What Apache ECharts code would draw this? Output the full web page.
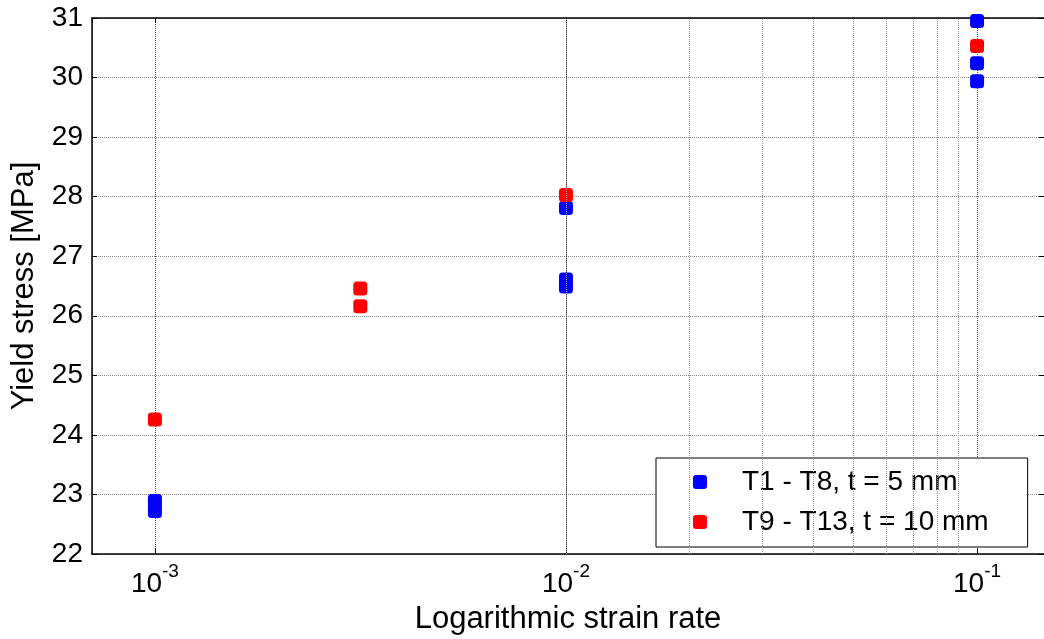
<!DOCTYPE html>
<html>
<head>
<meta charset="utf-8">
<script src="https://cdn.jsdelivr.net/npm/echarts@6/dist/echarts.min.js"></script>
<style>
html,body{margin:0;padding:0;background:#fff;}
#chart{width:1044px;height:639px;}
</style>
</head>
<body>
<div id="chart"></div>
<script>
// Data
const seriesNames = ['T1 - T8, t = 5 mm', 'T9 - T13, t = 10 mm'];
const blueRates  = [0.001, 0.001, 0.01, 0.01, 0.01, 0.1, 0.1, 0.1];
const blueStress = [22.89, 22.72, 27.81, 26.61, 26.49, 30.95, 30.24, 29.94];
const redRates   = [0.001, 0.00316, 0.00316, 0.01, 0.1];
const redStress  = [24.26, 26.46, 26.16, 28.03, 30.53];
const xRange = [7.03e-4, 0.1455];
const yRange = [22, 31];
const yTickStep = 1;
const minorGridX = [8e-4, 9e-4, 2e-3, 3e-3, 4e-3, 5e-3, 6e-3, 7e-3, 8e-3, 9e-3,
                    2e-2, 3e-2, 4e-2, 5e-2, 6e-2, 7e-2, 8e-2, 9e-2];

const zip = (a, b) => a.map((v, i) => [v, b[i]]);
const FONT = 'Liberation Sans, Arial, sans-serif';
const sq = 'path://M3,0 H11 Q14,0 14,3 V11 Q14,14 11,14 H3 Q0,14 0,11 V3 Q0,0 3,0 Z';
const isPow = v => Math.abs(Math.log10(v) - Math.round(Math.log10(v))) < 1e-6;

const chart = echarts.init(document.getElementById('chart'));
chart.setOption({
  animation: false,
  backgroundColor: '#fff',
  textStyle: { fontFamily: FONT },
  grid: { left: 92, right: 0, top: 18, bottom: 85, containLabel: false, outerBoundsMode: 'none' },
  xAxis: [{
    type: 'log', logBase: 10, min: xRange[0], max: xRange[1],
    name: 'Logarithmic strain rate', nameLocation: 'middle', nameGap: 50,
    nameTextStyle: { fontSize: 31, color: '#000', fontFamily: FONT },
    axisLine: { show: true, onZero: false, lineStyle: { color: '#000', width: 1.5 } },
    axisTick: { show: true, inside: true, length: 5, lineStyle: { color: '#000' } },
    axisLabel: {
      margin: 8, color: '#000', showMinLabel: false, showMaxLabel: false, hideOverlap: false,
      formatter: v => isPow(v) ? '{b|10}{sup|' + Math.round(Math.log10(v)) + '}' : '',
      rich: {
        b: { fontSize: 28, fontFamily: FONT, color: '#000', lineHeight: 36, verticalAlign: 'bottom' },
        sup: { fontSize: 19, fontFamily: FONT, color: '#000', lineHeight: 36, verticalAlign: 'top' }
      }
    },
    splitLine: { show: true, lineStyle: { color: '#444', width: 1, type: [1, 1] } }
  }, {
    type: 'log', logBase: 10, min: xRange[0], max: xRange[1], position: 'top',
    axisLine: { show: true, onZero: false, lineStyle: { color: '#000', width: 1.5 } },
    axisTick: { show: true, inside: true, length: 5, lineStyle: { color: '#000' } },
    axisLabel: { show: false }, splitLine: { show: false }
  }],
  yAxis: [{
    type: 'value', min: yRange[0], max: yRange[1], interval: yTickStep,
    name: 'Yield stress [MPa]', nameLocation: 'middle', nameGap: 52,
    nameTextStyle: { fontSize: 31, color: '#000', fontFamily: FONT },
    axisLine: { show: true, onZero: false, lineStyle: { color: '#000', width: 1.5 } },
    axisTick: { show: true, inside: true, length: 5, lineStyle: { color: '#000' } },
    axisLabel: { fontSize: 28, color: '#000', margin: 9, fontFamily: FONT },
    splitLine: { show: true, lineStyle: { color: '#888', width: 1, type: [1, 1] } }
  }, {
    type: 'value', min: yRange[0], max: yRange[1], interval: yTickStep, position: 'right',
    axisLine: { show: false },
    axisTick: { show: true, inside: true, length: 5, lineStyle: { color: '#000' } },
    axisLabel: { show: false }, splitLine: { show: false }
  }],
  legend: {
    left: 656, top: 458, orient: 'vertical',
    backgroundColor: '#fff', borderColor: '#000', borderWidth: 1, borderRadius: 0,
    padding: [9, 39, 10, 37],
    itemWidth: 14, itemHeight: 14, itemGap: 10,
    icon: sq,
    textStyle: { fontSize: 28, color: '#000', fontFamily: FONT, lineHeight: 30, padding: [0, 0, 0, 30] },
    data: seriesNames
  },
  series: [{
    type: 'scatter', name: '__grid', data: [], z: 1, silent: true,
    markLine: {
      silent: true, symbol: 'none', label: { show: false }, animation: false,
      lineStyle: { color: '#999', width: 1, type: [1, 1] },
      data: minorGridX.map(v => ({ xAxis: v }))
    }
  }, {
    type: 'scatter', name: seriesNames[0], data: zip(blueRates, blueStress),
    symbol: 'roundRect', symbolSize: 14, z: 3,
    itemStyle: { color: '#0000ff', opacity: 1 }
  }, {
    type: 'scatter', name: seriesNames[1], data: zip(redRates, redStress),
    symbol: 'roundRect', symbolSize: 14, z: 4,
    itemStyle: { color: '#ff0000', opacity: 1 }
  }]
});
</script>
</body>
</html>
